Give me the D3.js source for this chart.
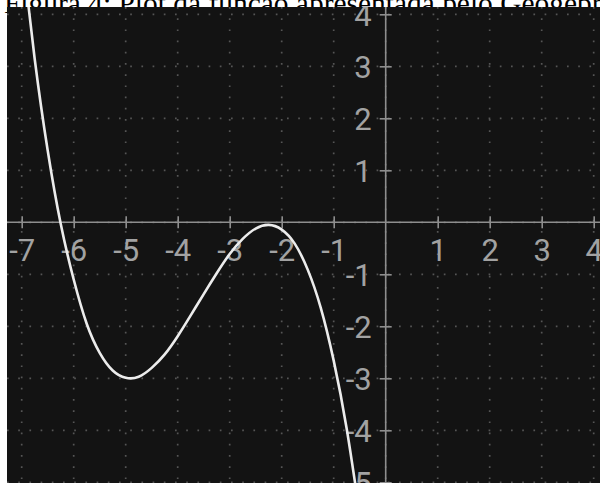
<!DOCTYPE html>
<html><head><meta charset="utf-8">
<script src="https://cdn.jsdelivr.net/npm/d3@7"></script>
<style>html,body{margin:0;padding:0;background:#fff;overflow:hidden}svg{display:block}</style>
</head><body>
<svg id="c" width="600" height="483"></svg>
<script>
// ---- data ----
const captionText = "Figura 4: Plot da função apresentada pelo Geogebra";
const xTicks = [-7, -6, -5, -4, -3, -2, -1, 1, 2, 3, 4];
const yTicks = [4, 3, 2, 1, -1, -2, -3, -4, -5];
const xGrid = [-7, -6, -5, -4, -3, -2, -1, 0, 1, 2, 3, 4];
const yGrid = [4, 3, 2, 1, 0, -1, -2, -3, -4, -5];
const curveX = [-7, -6.75, -6.5, -6.25, -6, -5.75, -5.5, -5.25, -5, -4.75, -4.5, -4.25, -4, -3.75, -3.5, -3.25, -3, -2.75, -2.5, -2.25, -2, -1.75, -1.5, -1.25, -1, -0.75, -0.5];
const curveY = [5.27, 3.14, 1.38, -0.03, -1.10, -1.95, -2.51, -2.85, -2.99, -2.97, -2.80, -2.54, -2.19, -1.79, -1.38, -0.98, -0.61, -0.32, -0.12, -0.05, -0.14, -0.41, -0.91, -1.64, -2.66, -3.97, -5.62];

const svg = d3.select("#c");
const plot = {x0: 7, y0: 7, x1: 600, y1: 483};

// caption (partly hidden by the screenshot below it)
const cap = svg.append("text")
  .attr("x", 4).attr("y", 13)
  .attr("font-family", "'Liberation Serif','Times New Roman',serif")
  .attr("font-size", 100).attr("fill", "#000").text(captionText);
const sub = svg.append("text").attr("font-family", "'Liberation Serif',serif")
  .attr("font-size", 100).text("Figura 4: Plot da função apresentada pelo Geogebr");
const wsub = sub.node().getComputedTextLength();
sub.remove();
const fs = 100 * 598 / wsub;
cap.attr("font-size", fs);

// dark plot background
svg.append("rect").attr("x", plot.x0).attr("y", plot.y0)
  .attr("width", plot.x1 - plot.x0).attr("height", plot.y1 - plot.y0)
  .attr("fill", "#131313");

svg.append("clipPath").attr("id", "clip").append("rect")
  .attr("x", plot.x0).attr("y", plot.y0)
  .attr("width", plot.x1 - plot.x0).attr("height", plot.y1 - plot.y0);

const g = svg.append("g").attr("clip-path", "url(#clip)");

const x = d3.scaleLinear().domain([-7, 4]).range([21.7, 593.7]);
const y = d3.scaleLinear().domain([4, -5]).range([14.3, 482.3]);

// dotted grid
g.append("g").selectAll("line").data(xGrid).join("line")
  .attr("x1", d => x(d)).attr("x2", d => x(d))
  .attr("y1", plot.y0).attr("y2", plot.y1)
  .attr("stroke", "#555").attr("stroke-width", 1.7)
  .attr("stroke-dasharray", "1.7,9.5");
g.append("g").selectAll("line").data(yGrid).join("line")
  .attr("y1", d => y(d)).attr("y2", d => y(d))
  .attr("x1", plot.x0).attr("x2", plot.x1)
  .attr("stroke", "#555").attr("stroke-width", 1.7)
  .attr("stroke-dasharray", "1.7,9.5");

const axisColor = "#8e8e8e", labelColor = "#a2a2a2";
// axis lines
g.append("line").attr("x1", plot.x0).attr("x2", plot.x1)
  .attr("y1", y(0)).attr("y2", y(0)).attr("stroke", axisColor).attr("stroke-width", 1.6);
g.append("line").attr("y1", plot.y0).attr("y2", plot.y1)
  .attr("x1", x(0)).attr("x2", x(0)).attr("stroke", axisColor).attr("stroke-width", 1.6);

// x axis ticks and labels
const xa = g.append("g").attr("transform", `translate(0,${y(0)})`)
  .call(d3.axisBottom(x).tickValues(xTicks).tickFormat(d3.format("d")).tickSize(6));
xa.select(".domain").remove();
xa.selectAll(".tick line").attr("y1", -6).attr("y2", 6)
  .attr("stroke", axisColor).attr("stroke-width", 1.6);
xa.selectAll(".tick text").attr("y", 39).attr("dy", null)
  .attr("fill", labelColor).attr("font-family", "Roboto, sans-serif")
  .attr("font-size", 31).text(d => d < 0 ? "-" + Math.abs(d) : d);

// y axis ticks and labels
const ya = g.append("g").attr("transform", `translate(${x(0)},0)`)
  .call(d3.axisLeft(y).tickValues(yTicks).tickFormat(d3.format("d")).tickSize(6));
ya.select(".domain").remove();
ya.selectAll(".tick line").attr("x1", -6).attr("x2", 6)
  .attr("stroke", axisColor).attr("stroke-width", 1.6);
ya.selectAll(".tick text").attr("x", -14).attr("dy", null).attr("y", 11.3)
  .attr("fill", labelColor).attr("font-family", "Roboto, sans-serif")
  .attr("font-size", 31).text(d => d < 0 ? "-" + Math.abs(d) : d);

// the function curve
const pts = curveX.map((v, i) => [v, curveY[i]]);
g.append("path").datum(pts)
  .attr("d", d3.line().x(d => x(d[0])).y(d => y(d[1])).curve(d3.curveNatural))
  .attr("fill", "none").attr("stroke", "#ececec").attr("stroke-width", 2.6)
  .attr("stroke-linecap", "round");
</script>
</body></html>
